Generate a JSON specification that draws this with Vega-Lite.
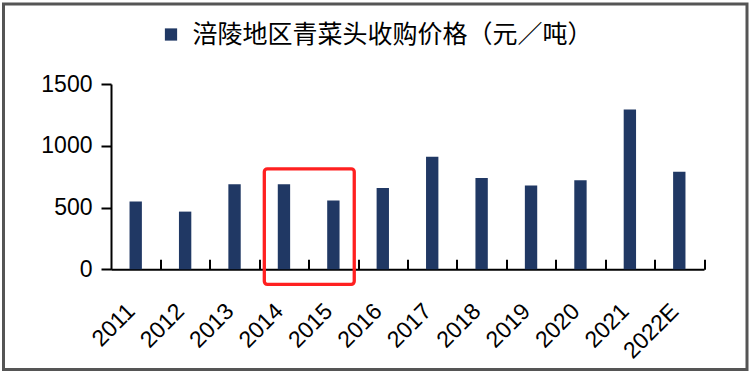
{
  "$schema": "https://vega.github.io/schema/vega-lite/v6.json",
  "width": 743.5,
  "height": 365.5,
  "autosize": {"type": "none"},
  "padding": {"left": 3.5, "top": 4, "right": 6, "bottom": 9.5},
  "background": "white",
  "config": {
    "view": {"stroke": "#555555", "strokeWidth": 3},
    "font": "Liberation Sans"
  },
  "datasets": {
    "price": [
      {"year": "2011", "price": 548, "series": "涪陵地区青菜头收购价格（元／吨）"},
      {"year": "2012", "price": 467, "series": "涪陵地区青菜头收购价格（元／吨）"},
      {"year": "2013", "price": 689, "series": "涪陵地区青菜头收购价格（元／吨）"},
      {"year": "2014", "price": 689, "series": "涪陵地区青菜头收购价格（元／吨）"},
      {"year": "2015", "price": 556, "series": "涪陵地区青菜头收购价格（元／吨）"},
      {"year": "2016", "price": 659, "series": "涪陵地区青菜头收购价格（元／吨）"},
      {"year": "2017", "price": 912, "series": "涪陵地区青菜头收购价格（元／吨）"},
      {"year": "2018", "price": 740, "series": "涪陵地区青菜头收购价格（元／吨）"},
      {"year": "2019", "price": 678, "series": "涪陵地区青菜头收购价格（元／吨）"},
      {"year": "2020", "price": 721, "series": "涪陵地区青菜头收购价格（元／吨）"},
      {"year": "2021", "price": 1293, "series": "涪陵地区青菜头收购价格（元／吨）"},
      {"year": "2022E", "price": 789, "series": "涪陵地区青菜头收购价格（元／吨）"}
    ],
    "highlight": [
      {"from": "2014", "to": "2015", "top": 813, "bottom": -122}
    ]
  },
  "layer": [
    {
      "data": {"name": "price"},
      "mark": {"type": "bar"},
      "encoding": {
        "x": {
          "field": "year",
          "type": "nominal",
          "sort": null,
          "scale": {"range": [107.5, 700.5], "paddingInner": 0.75, "paddingOuter": 0.375},
          "axis": {
            "title": null,
            "orient": "bottom",
            "offset": -100.2,
            "domainColor": "black",
            "domainWidth": 2,
            "tickColor": "black",
            "tickWidth": 2,
            "tickSize": -10,
            "tickOffset": 24.71,
            "labelOffset": -24.71,
            "labelAngle": -45,
            "labelAlign": "right",
            "labelBaseline": "alphabetic",
            "labelFontSize": 23,
            "labelColor": "black",
            "labelPadding": 53,
            "labelFont": "Liberation Sans"
          }
        },
        "y": {
          "field": "price",
          "type": "quantitative",
          "scale": {"domain": [0, 1500], "range": [265.3, 80], "nice": false},
          "axis": {
            "title": null,
            "offset": -107.5,
            "values": [0, 500, 1000, 1500],
            "format": "d",
            "grid": false,
            "domainColor": "black",
            "domainWidth": 2,
            "tickColor": "black",
            "tickWidth": 2,
            "tickSize": 10,
            "labelFontSize": 23,
            "labelColor": "black",
            "labelPadding": 9,
            "labelFont": "Liberation Sans"
          }
        },
        "color": {
          "field": "series",
          "type": "nominal",
          "scale": {"range": ["#203864"]},
          "legend": {
            "title": null,
            "orient": "none",
            "legendX": 155,
            "legendY": 18,
            "padding": 0,
            "symbolType": "square",
            "symbolSize": 150,
            "symbolStrokeWidth": 0,
            "labelFont": "Noto Sans CJK SC",
            "labelFontSize": 25,
            "labelColor": "black",
            "labelOffset": 9,
            "labelLimit": 600
          }
        }
      }
    },
    {
      "data": {"name": "highlight"},
      "mark": {"type": "rect", "fill": null, "fillOpacity": 0, "stroke": "#ff2020", "strokeWidth": 3.3, "cornerRadius": 3, "clip": false},
      "encoding": {
        "x": {"field": "from", "type": "nominal", "bandPosition": -1.09},
        "x2": {"field": "to", "bandPosition": 2.19},
        "y": {"field": "top", "type": "quantitative"},
        "y2": {"field": "bottom"}
      }
    }
  ]
}
